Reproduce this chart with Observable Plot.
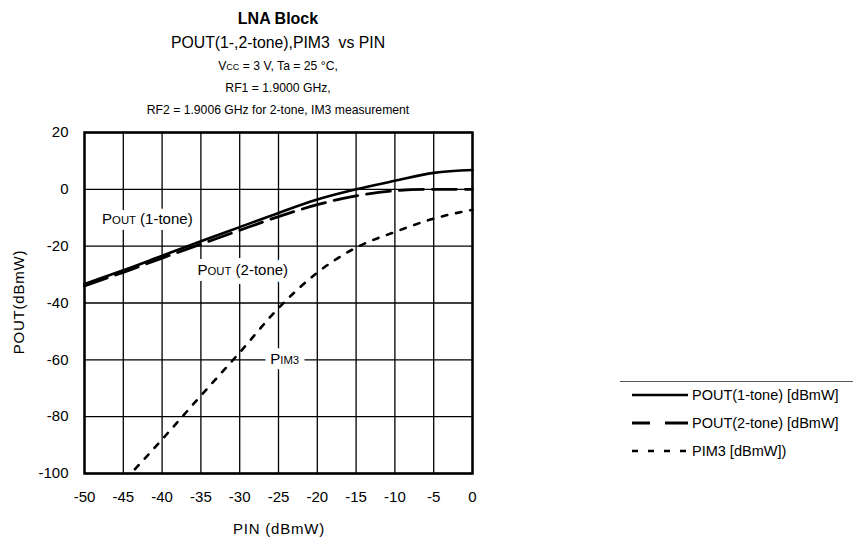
<!DOCTYPE html>
<html>
<head>
<meta charset="utf-8">
<script src="https://cdn.jsdelivr.net/npm/d3@7"></script>
<script src="https://cdn.jsdelivr.net/npm/@observablehq/plot@0.6"></script>
<style>
  html, body { margin: 0; padding: 0; background: #fff; }
  #wrap { position: relative; width: 853px; height: 539px; overflow: hidden;
          font-family: "Liberation Sans", Arial, sans-serif; color: #000; }
  #wrap > svg { position: absolute; left: 0; top: 0; }
  .title { position: absolute; left: 0; width: 556px; text-align: center; white-space: pre; }
  .sc { font-size: 0.75em; }
  .axlabel { position: absolute; white-space: pre; font-size: 15px; letter-spacing: 0.8px; }
  #legend { position: absolute; left: 620px; top: 381px; width: 240px; height: 90px;
            border-top: 1.5px solid #555; }
  .lrow { position: absolute; left: 12px; height: 18px; display: flex; align-items: center;
          font-size: 14.5px; white-space: pre; }
  .lrow svg { margin-right: 2px; }
</style>
</head>
<body>
<div id="wrap"></div>
<script>
// Input power sweep (dBmW)
const pin = [-50, -45, -40, -35, -30, -25, -20, -15, -10, -5, 0];
// Output power, single tone (dBmW)
const pout1 = [-33.3, -28.5, -23.4, -18.3, -13.3, -8.3, -3.6, 0.0, 3.0, 5.8, 6.8];
// Output power per tone, two-tone test (dBmW)
const pout2 = [-34.0, -29.2, -24.2, -19.3, -14.4, -9.6, -5.4, -2.3, -0.5, 0.0, 0.0];
// Third-order intermodulation product (dBmW)
const pim3In = [-43.5, -40, -35, -30, -25, -20, -15, -10, -5, 0];
const pim3 = [-98.5, -88.0, -72.6, -57.4, -41.8, -29.3, -20.5, -15.0, -10.3, -7.2];

const xTicks = [-50, -45, -40, -35, -30, -25, -20, -15, -10, -5, 0];
const yTicks = [-100, -80, -60, -40, -20, 0, 20];

// Curve labels; text in braces is set in small capitals
const curveLabels = ["P{OUT} (1-tone)", "P{OUT} (2-tone)", "P{IM3}"];
const legendNames = ["POUT(1-tone) [dBmW]", "POUT(2-tone) [dBmW]", "PIM3 [dBmW])"];

const titleLines = [
  "LNA Block",
  "POUT(1-,2-tone),PIM3  vs PIN",
  "V{CC} = 3 V, Ta = 25 °C,",
  "RF1 = 1.9000 GHz,",
  "RF2 = 1.9006 GHz for 2-tone, IM3 measurement"
];
const yLabel = "POUT(dBmW)";
const xLabel = "PIN (dBmW)";

const W = 853, H = 539;
const toHtml = s => s.replace(/\{([^}]*)\}/g, '<span class="sc">$1</span>');

const s1 = pin.map((x, i) => ({x, y: pout1[i]}));
const s2 = pin.map((x, i) => ({x, y: pout2[i]}));
const s3 = pim3In.map((x, i) => ({x, y: pim3[i]}));

const gridStyle = {stroke: "#000", strokeOpacity: 1, strokeWidth: 1.3};
const labelPos = {x: [-41.9, -29.6, -24.2], y: [-10.4, -28.6, -59.6], text: d => d, fontSize: 15};

const chart = Plot.plot({
  width: W,
  height: H,
  marginLeft: 84,
  marginRight: 381,
  marginTop: 132,
  marginBottom: 66,
  style: {fontFamily: '"Liberation Sans", Arial, sans-serif', fontSize: "15px", color: "#000", background: "transparent"},
  x: {domain: [-50, 0]},
  y: {domain: [-100, 20]},
  marks: [
    Plot.gridX(xTicks, gridStyle),
    Plot.gridY(yTicks, gridStyle),
    Plot.line(s1, {x: "x", y: "y", curve: "monotone-x", stroke: "#000", strokeWidth: 2.6}),
    Plot.line(s2, {x: "x", y: "y", curve: "monotone-x", stroke: "#000", strokeWidth: 2.8, strokeDasharray: "24,9"}),
    Plot.line(s3, {x: "x", y: "y", curve: "monotone-x", stroke: "#000", strokeWidth: 2.6, strokeDasharray: "5.5,9"}),
    // white knock-out behind each curve label, then the label itself
    Plot.text(curveLabels, {...labelPos, fill: "#fff", stroke: "#fff", strokeWidth: 12, strokeLinejoin: "round"}),
    Plot.text(curveLabels, {...labelPos, fill: "#000"}),
    Plot.frame({stroke: "#000", strokeWidth: 2.5}),
    Plot.axisX(xTicks, {tickSize: 0, tickPadding: 18, fontSize: 15, label: null, tickFormat: d => String(d)}),
    Plot.axisY(yTicks, {tickSize: 0, tickPadding: 16, fontSize: 15, label: null, tickFormat: d => String(d)})
  ]
});

// Turn "{...}" runs inside SVG text into smaller tspans
chart.querySelectorAll("text").forEach(t => {
  const str = t.textContent;
  if (!str.includes("{")) return;
  t.textContent = "";
  str.split(/(\{[^}]*\})/).filter(p => p.length).forEach(p => {
    const ts = document.createElementNS("http://www.w3.org/2000/svg", "tspan");
    if (p.startsWith("{")) { ts.textContent = p.slice(1, -1); ts.setAttribute("font-size", "11.3"); }
    else ts.textContent = p;
    t.appendChild(ts);
  });
});

const wrap = document.getElementById("wrap");
wrap.appendChild(chart);

// Title block, centred over the plotting area
const titleTops = [8, 32, 55, 77, 99];
const titleSizes = [16, 15.8, 12.2, 12.2, 12.2];
titleLines.forEach((s, i) => {
  const d = document.createElement("div");
  d.className = "title";
  d.style.top = titleTops[i] + "px";
  d.style.fontSize = titleSizes[i] + "px";
  d.style.lineHeight = "22px";
  if (i === 0) d.style.fontWeight = "bold";
  d.innerHTML = toHtml(s);
  wrap.appendChild(d);
});

// Axis titles
const yl = document.createElement("div");
yl.className = "axlabel";
yl.textContent = yLabel;
yl.style.left = "18px"; yl.style.top = "302px";
yl.style.transform = "translate(-50%, -50%) rotate(-90deg)";
wrap.appendChild(yl);

const xl = document.createElement("div");
xl.className = "axlabel";
xl.innerHTML = toHtml(xLabel);
xl.style.left = "279px"; xl.style.top = "528px";
xl.style.transform = "translate(-50%, -50%)";
wrap.appendChild(xl);

// Legend
const legend = document.createElement("div");
legend.id = "legend";
const dashes = [null, "18,15,23", "6,10"];
const rowCenters = [13, 41, 69];
legendNames.forEach((name, i) => {
  const row = document.createElement("div");
  row.className = "lrow";
  row.style.top = (rowCenters[i] - 9) + "px";
  const svg = d3.create("svg").attr("width", 58).attr("height", 10);
  svg.append("line").attr("x1", 0).attr("x2", i === 2 ? 58 : 56).attr("y1", 5).attr("y2", 5)
    .attr("stroke", "#000").attr("stroke-width", i === 1 ? 2.8 : 2.6)
    .attr("stroke-dasharray", dashes[i]);
  row.appendChild(svg.node());
  row.appendChild(document.createTextNode(name));
  legend.appendChild(row);
});
wrap.appendChild(legend);
</script>
</body>
</html>
